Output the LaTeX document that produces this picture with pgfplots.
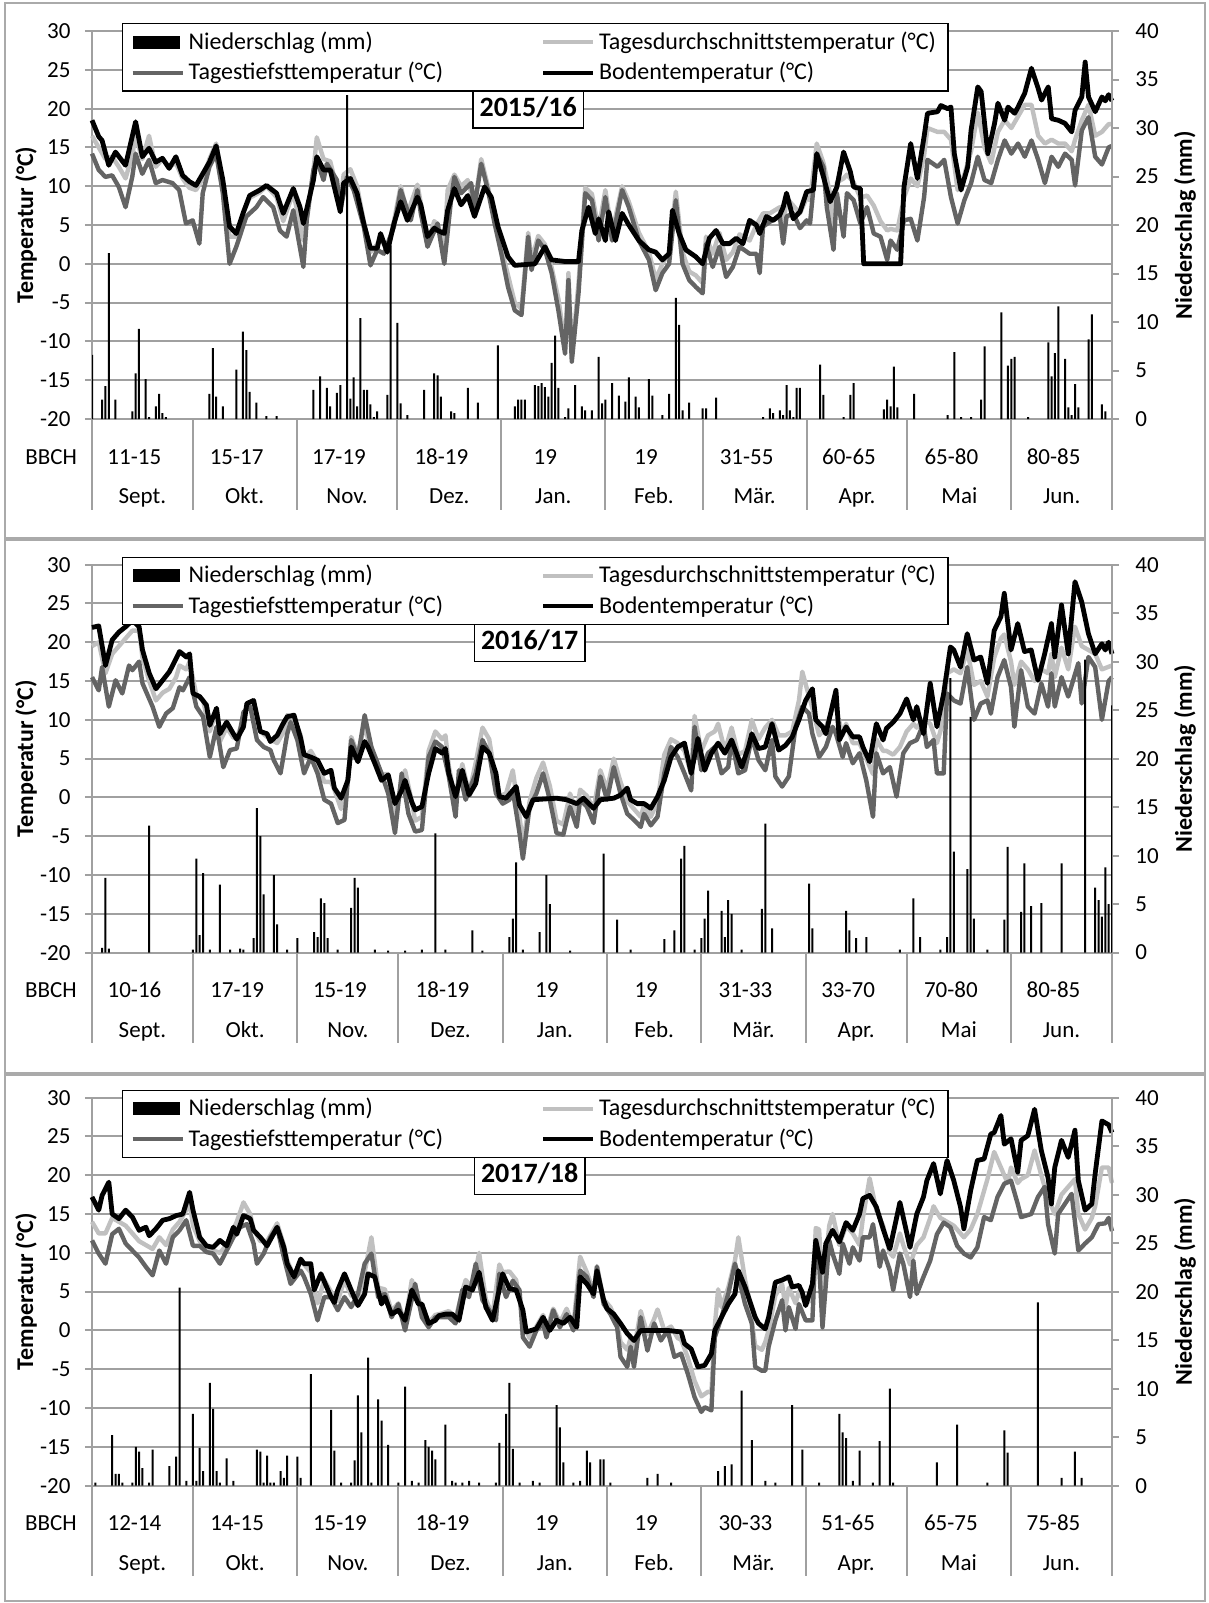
\documentclass[border=0pt]{standalone}
\usepackage{fontspec}
\setmainfont{Carlito}
\usepackage{pgfplots}
\pgfplotsset{compat=1.18}

\definecolor{gridc}{RGB}{160,160,160}
\definecolor{avgc}{RGB}{192,192,192}
\definecolor{minc}{RGB}{100,100,100}
\definecolor{framec}{RGB}{170,170,170}
\newcommand\tfont{\fontsize{11.5}{13.8}\selectfont}
\newcommand\lfont{\fontsize{12}{14.4}\selectfont}

\pgfplotsset{
  lineleg/.style={legend image code/.code={\draw[##1] (0pt,0pt) -- (25pt,0pt);}},
  barleg/.style={legend image code/.code={\fill[black] (0pt,-3.25pt) rectangle (23.5pt,3.25pt);}},
  base/.style={scale only axis, width=510pt, height=194pt, xmin=0,
    axis x line=none, tick align=outside, major tick length=3.5pt,
    tick style={gridc, line width=1pt},
    y axis line style={gridc, line width=1pt, -},
    ticklabel style={font=\tfont},
    /pgf/number format/assume math mode=true,
    label style={font=\fontsize{12}{14}\selectfont\bfseries}},
  tempax/.style={base, ymin=-20, ymax=30, ytick={-20,-15,...,30}, axis y line*=left,
    ymajorgrids, major grid style={gridc, line width=1pt},
    yticklabel style={xshift=-3.7pt},
    ylabel={Temperatur (°C)},
    ylabel style={at={(axis description cs:-0.0647,0.5)}, anchor=center},
    clip=false},
  precax/.style={base, ymin=0, ymax=40, ytick={0,5,...,40}, axis y line*=right,
    yticklabel style={xshift=4.7pt},
    ylabel={Niederschlag (mm)},
    ylabel style={at={(axis description cs:1.0716,0.5)}, anchor=center},
    legend columns=2, legend cell align=left,
    legend style={at={(axis description cs:0.0294,1.0206)}, anchor=north west,
      draw=black, line width=0.7pt, fill=white, font=\lfont,
      row sep=1pt, inner xsep=4pt, inner ysep=2pt,
      /tikz/every even column/.append style={column sep=47pt}}},
  avgline/.style={avgc, line width=2.2pt, line join=round},
  minline/.style={minc, line width=2.2pt, line join=round},
  soilline/.style={black, line width=2.4pt, line join=round},
  precbar/.style={ybar, bar width=1pt, fill=black, draw=none, barleg},
}

\newcommand\msep[1]{\draw[gridc, line width=1pt] (axis cs:#1,-20) -- (axis cs:#1,-31.7);}
\newcommand\mlab[3]{\node[font=\tfont, anchor=base, xshift=-4pt] at (axis cs:#1,-25.8) {#2};
  \node[font=\tfont, anchor=base] at (axis cs:#1,-30.95) {#3};}
% title box sits on the 20 degC gridline, i.e. 32 mm on the precipitation axis
\newcommand\titlebox[1]{\node[draw=black, line width=0.75pt, fill=white,
  font=\fontsize{14}{16}\selectfont\bfseries, inner xsep=3.3pt, inner ysep=4pt,
  text height=9.5pt, text depth=2pt] at (axis cs:130,32) {#1};}
\newcommand\legendrest{%
  \addlegendentry{Niederschlag (mm)}
  \addlegendimage{avgline, line width=2pt, lineleg}
  \addlegendentry{Tagesdurchschnittstemperatur (°C)}
  \addlegendimage{minline, line width=2pt, lineleg}
  \addlegendentry{Tagestiefsttemperatur (°C)}
  \addlegendimage{soilline, line width=2pt, lineleg}
  \addlegendentry{Bodentemperatur (°C)}}

\begin{document}
\begin{tikzpicture}
\useasboundingbox (0,0) rectangle (604.5pt,-801.5pt);

% ---------------- 2015/16 ----------------
\begin{axis}[tempax, xmax=304, at={(46pt,-209.5pt)}]
\addplot[avgline] coordinates {
(0,16.5)(2,15)(4,13.5)(6,13.8)(8,12.5)(10,11)(12,14)(13,16.5)(15,13.5)(17,16.5)(19,12.5)(21,13.5)(23,12.5)(25,13)(27,11)(29,9.8)(31,9.5)(33,11)(35,13.5)(37,15.5)(39,10.5)(41,3.5)(43,3.5)(45,6.5)(47,8.5)(50,9.2)(52,10)(55,8.6)(57,5.5)(60,9.2)(63,3)(66,12)(67,16.3)(69,13.5)(71,13.2)(74,8)(75,11.5)(77,12.2)(79,10)(81,5.5)(83,1.5)(85,2.5)(86,3.5)(88,1.5)(90,5.5)(92,10)(94,6.5)(97,10.2)(98,7.8)(100,2.5)(102,5.5)(103,5)(105,2.5)(106,9.5)(108,11.5)(110,10)(112,10.8)(114,7.5)(116,13.5)(118,10)(120,5.5)(122,2)(124,-1.5)(126,-5)(128,-5.8)(130,4)(131,0.5)(133,3.6)(135,2.5)(137,-0.5)(139,-4.5)(141,-10.5)(142,-1.2)(143,-11.8)(145,-2.5)(147,9.8)(149,9)(151,4.5)(153,9.5)(155,4)(158,10)(160,8)(163,4)(166,1.5)(168,-2)(170,0)(172,1.5)(174,9.3)(176,1.5)(178,-1)(180,-1.5)(182,-2.5)(183,3.5)(185,1.3)(187,4)(189,0.5)(191,1.5)(193,3.8)(196,3)(198,5)(200,6.5)(202,6.5)(205,7.3)(206,4.5)(207,8.5)(209,7.5)(211,6.5)(213,8.5)(214,8.2)(216,15.5)(218,13)(220,9)(221,4.5)(222,10.5)(224,11)(225,11.5)(227,10.5)(229,8.5)(231,8.8)(233,7.5)(235,5.5)(237,4.3)(238,4.5)(240,4.3)(242,8.5)(244,11)(246,10)(248,14)(249,17.5)(252,17)(254,17)(256,16)(258,9.5)(260,11.5)(262,14.5)(264,19.5)(266,15)(268,13)(270,17)(272,18.5)(274,17.5)(276,19)(278,20.5)(280,20.5)(282,16.5)(284,15.5)(286,16)(288,15.5)(290,15.5)(292,14.5)(293,16)(295,18.5)(297,20.5)(299,16.5)(301,17)(303,18)(304,18)};
\addplot[minline] coordinates {
(0,14.2)(2,12.1)(4,11.2)(6,11.4)(8,9.9)(10,7.3)(12,11.2)(13,14.2)(15,11.6)(17,13.4)(19,10.4)(21,10.8)(24,10.4)(26,9.5)(28,5.2)(30,5.6)(32,2.6)(33,9.1)(35,12.5)(37,14.2)(39,9.1)(41,0.0)(43,2.2)(46,6.1)(49,7.3)(51,8.6)(54,7.3)(56,4.3)(58,3.5)(60,6.9)(63,-0.4)(64,5.6)(66,12.1)(67,13.4)(69,10.8)(70,12.9)(73,10.8)(74,6.9)(76,11.2)(78,9.5)(81,4.8)(83,-0.2)(85,1.8)(87,1.3)(90,4.8)(92,9.5)(95,5.6)(97,9.5)(98,6.5)(100,2.2)(103,5.2)(105,0)(107,8.2)(108,11.2)(110,9.1)(113,10.4)(114,7.3)(116,12.9)(118,9.5)(120,5.2)(122,1.3)(124,-3.0)(126,-6.0)(128,-6.6)(130,3.5)(131,-0.8)(133,3.0)(135,1.8)(137,-1.2)(139,-6.0)(141,-11.6)(142,-2.1)(143,-12.6)(145,-3.8)(147,9.1)(149,8.2)(151,3.0)(153,8.6)(155,3.0)(158,9.5)(160,7.3)(163,3.0)(166,0.5)(168,-3.4)(170,-1.2)(172,0)(174,8.2)(176,0)(178,-2.1)(180,-3.0)(182,-3.8)(183,2.6)(185,-0.4)(187,2.2)(189,-1.7)(191,-0.4)(193,2.2)(196,1.3)(198,1.3)(199,-1.2)(200,4.8)(202,5.4)(205,6.1)(206,2.6)(207,6.1)(209,6.5)(211,4.6)(213,5.6)(214,5.2)(216,14.2)(218,12.5)(219,7.3)(221,1.8)(222,9.1)(224,3.5)(225,9.1)(227,8.2)(229,5.2)(231,7.3)(233,3.9)(235,3.5)(237,0.5)(238,3.0)(240,1.8)(242,5.6)(244,5.8)(246,3.0)(248,8.6)(249,13.4)(252,12.5)(254,13.4)(256,8.6)(258,5.2)(260,8.2)(262,10.4)(264,13.8)(266,10.8)(268,10.4)(270,13.4)(272,15.9)(274,14.2)(276,15.5)(278,13.8)(280,15.9)(282,13.4)(284,10.4)(286,13.8)(288,12.5)(290,14.2)(292,13.4)(293,10.1)(295,17.2)(297,18.9)(299,13.8)(301,12.8)(303,15)(304,15.2)};
\addplot[soilline] coordinates {
(0,18.5)(2,16.4)(3,15.9)(5,12.7)(7,14.4)(10,12.7)(13,18.3)(15,13.8)(17,14.9)(19,13.1)(21,13.6)(23,12.3)(25,13.8)(27,11.4)(29,10.6)(31,10.1)(33,11.6)(35,13.1)(37,15.2)(39,10.8)(41,4.8)(43,3.9)(45,6.5)(47,8.8)(50,9.5)(52,10.1)(55,9.1)(57,6.5)(60,9.7)(62,7.3)(63,5.2)(66,10.8)(67,13.8)(69,12.1)(71,12.1)(74,6.7)(75,10.4)(77,11.0)(79,9.1)(81,5.2)(83,2.0)(85,2.0)(86,3.9)(88,1.5)(90,5.2)(92,8.0)(94,5.6)(97,8.6)(98,7.6)(100,3.5)(102,4.6)(103,4.3)(105,3.9)(106,6.9)(108,9.7)(110,7.6)(112,8.8)(114,6.1)(117,9.9)(119,8.6)(121,4.8)(123,2.2)(124,0.9)(126,-0.2)(132,0)(135,2.2)(137,0.5)(141,0.3)(145,0.3)(146,4.3)(148,7.3)(150,3.9)(151,5.8)(153,3.0)(154,6.7)(156,3.0)(158,6.5)(160,5.0)(163,3.0)(166,1.8)(168,1.5)(170,0.5)(172,1.3)(173,6.9)(175,3.9)(177,1.8)(180,0.9)(182,0)(184,3.3)(186,4.3)(188,2.6)(190,2.6)(192,3.3)(194,2.6)(196,5.6)(198,5.0)(199,3.9)(201,6.1)(203,5.6)(205,6.3)(206,7.3)(207,9.1)(209,5.8)(211,6.7)(213,9.3)(215,9.5)(216,14.2)(218,11.2)(220,8.0)(222,9.9)(224,14.4)(226,11.9)(227,9.9)(229,9.7)(230,0)(241,0)(242,9.9)(244,15.5)(246,11.0)(248,16.4)(249,19.4)(252,19.6)(253,20.4)(255,20.0)(256,20.2)(257,14.2)(259,9.5)(261,12.5)(262,17.2)(264,22.8)(265,22.2)(267,14.2)(269,18.1)(270,20.7)(272,18.5)(273,20.2)(275,19.4)(276,20.2)(278,22.0)(280,25.2)(282,22.6)(283,21.1)(285,22.8)(286,18.7)(288,18.5)(290,18.1)(292,17.0)(293,19.8)(295,21.5)(296,26.0)(297,21.5)(299,19.6)(301,21.5)(302,21)(303,21.8)(304,21)};
\msep{0}\msep{30}\msep{61}\msep{91}\msep{122}\msep{153}\msep{182}\msep{213}\msep{243}\msep{274}\msep{304}
\node[font=\tfont, anchor=base] at (axis cs:-12.2,-25.8) {BBCH};
\mlab{15}{11-15}{Sept.}\mlab{45.5}{15-17}{Okt.}\mlab{76}{17-19}{Nov.}\mlab{106.5}{18-19}{Dez.}
\mlab{137.5}{19}{Jan.}\mlab{167.5}{19}{Feb.}\mlab{197.5}{31-55}{Mär.}\mlab{228}{60-65}{Apr.}
\mlab{258.5}{65-80}{Mai}\mlab{289}{80-85}{Jun.}
\end{axis}
\begin{axis}[precax, xmax=304, at={(46pt,-209.5pt)}]
\addplot[precbar] coordinates {
(0,6.6)(3,2.0)(4,3.4)(5,17.1)(7,2.0)(12,0.8)(13,4.7)(14,9.3)(16,4.1)(17,0.2)(19,1.3)(20,2.6)(21,0.6)(22,0.2)(35,2.6)(36,7.3)(37,2.3)(39,1.3)(43,5.1)(45,9.0)(46,7.1)(47,2.8)(49,1.7)(52,0.3)(55,0.3)(66,3.0)(68,4.4)(70,3.2)(71,1.3)(73,2.7)(74,3.5)(76,33.4)(77,2.1)(78,4.3)(79,1.3)(80,10.4)(81,3.0)(82,3.0)(83,1.5)(84,0.2)(85,0.8)(88,2.5)(89,17.9)(91,9.9)(92,1.6)(94,0.4)(99,3.0)(102,4.7)(103,4.5)(104,2.3)(107,0.8)(108,0.6)(112,3.2)(115,1.7)(121,7.6)(126,1.3)(127,2.0)(128,2.0)(129,2.0)(132,3.5)(133,3.4)(134,3.7)(135,3.3)(136,2.3)(137,5.8)(138,8.6)(139,3.2)(141,0.2)(142,1.1)(144,3.5)(146,1.3)(147,0.9)(149,0.9)(151,6.4)(152,1.6)(153,2.0)(155,3.7)(157,2.4)(159,1.8)(160,4.3)(162,2.3)(163,1.2)(166,4.1)(167,2.4)(170,0.4)(172,2.6)(174,12.5)(175,9.7)(176,0.9)(178,1.7)(182,1.1)(183,1.1)(186,2.2)(200,0.2)(202,1.1)(203,0.6)(205,0.9)(206,0.4)(207,3.5)(208,0.9)(209,0.2)(210,3.2)(211,3.2)(217,5.6)(218,2.5)(224,0.2)(226,2.5)(227,3.7)(236,1.0)(237,2.0)(238,1.3)(239,5.4)(240,1.2)(245,2.6)(255,0.4)(257,6.9)(259,0.2)(262,0.2)(265,2.0)(266,7.5)(271,11.0)(273,5.5)(274,6.2)(275,6.4)(279,0.2)(285,7.9)(286,4.4)(287,6.8)(288,11.6)(290,6.2)(291,1.2)(292,0.4)(293,3.6)(294,1.2)(297,8.2)(298,10.8)(301,1.5)(302,0.8)};
\legendrest
\titlebox{2015/16}
\end{axis}

% ---------------- 2016/17 ----------------
\begin{axis}[tempax, xmax=303, at={(46pt,-476.3pt)}]
\addplot[avgline] coordinates {
(0,19.5)(2,20)(4,16)(6,18.5)(8,19.5)(10,20.5)(12,21.5)(14,21.5)(15,18)(17,15)(19,12.5)(21,13.5)(23,14)(25,15.5)(26,17)(28,16.5)(29,17.5)(31,13.2)(33,12.5)(35,8.5)(37,11.3)(38,7.2)(40,9)(42,7.7)(43,7.7)(45,10)(46,12)(48,12.5)(50,8.5)(52,7.8)(53,7.5)(55,7)(57,8.5)(58,10.6)(60,10.2)(62,8)(63,5)(65,6)(67,4.5)(69,2)(71,2)(72,1)(74,-1.5)(76,2)(77,7.8)(79,5.5)(81,9.5)(82,7.5)(84,5)(86,3)(88,3)(90,-2.5)(92,2)(93,3.5)(95,-0.5)(96,-3)(98,-2.5)(100,6)(102,8.5)(104,7.5)(105,8)(106,4)(108,-0.5)(110,4.3)(112,0.5)(114,4.5)(116,9)(118,7.5)(120,2)(121,0.2)(123,0.5)(125,3.5)(127,-2.5)(128,-6)(130,-0.5)(132,2.5)(134,4.5)(136,1.5)(138,-3)(140,-3.5)(142,0.5)(144,-2)(145,1)(147,0.2)(149,-1.5)(151,3.5)(153,1)(155,5)(157,2)(159,-0.5)(161,-1.5)(163,-2.5)(164,-1)(166,-2.5)(168,-0.5)(170,5.5)(172,7.5)(174,7)(176,6)(178,3)(179,10.5)(181,6)(183,8)(185,8.5)(186,9.5)(188,6)(190,9)(192,5.5)(194,6)(196,10)(198,7.5)(200,9)(202,10)(204,8)(206,8)(208,8.5)(210,12.5)(211,16.2)(213,13)(214,11.5)(216,8)(218,9)(220,11.5)(221,11.5)(223,8)(224,9.5)(226,7)(228,7)(230,5)(232,3)(233,7.5)(235,6)(236,6)(238,5.5)(240,6.5)(242,8.5)(244,9.5)(245,9)(247,10)(249,9.5)(251,7)(253,10)(254,16)(256,16.5)(258,16)(260,19)(262,14.5)(264,15)(266,13)(268,18)(270,20.5)(271,21)(273,17.5)(274,14.5)(276,17.5)(278,16.5)(280,15)(282,16.5)(284,16)(285,18.5)(286,15.5)(288,19.3)(290,16.5)(292,22)(294,19.5)(296,19)(298,18.5)(300,16.5)(303,17)};
\addplot[minline] coordinates {
(0,15.5)(2,13.8)(3,16.8)(5,11.7)(7,15.1)(9,13.4)(11,17.0)(12,16.4)(14,17.5)(15,14.7)(18,11.7)(20,9.1)(22,10.8)(24,11.5)(26,14.2)(27,13.8)(29,15.5)(31,11.7)(33,10.4)(35,5.2)(37,9.1)(39,3.9)(41,6.1)(43,6.3)(45,11.0)(47,11.7)(49,7.4)(51,6.5)(53,6.1)(54,4.8)(56,3.1)(58,8.2)(59,9.7)(61,7.4)(63,3.1)(65,5.2)(67,3.1)(69,-0.3)(71,-0.8)(73,-3.3)(75,-2.9)(77,7.4)(79,5.2)(81,10.6)(83,6.5)(86,3.1)(88,0.5)(90,-4.6)(92,3.1)(94,-2.1)(96,-4.4)(98,-4.2)(100,5.2)(102,7.2)(104,6.5)(106,2.7)(108,-2.5)(109,3.5)(111,-0.3)(114,3.1)(116,7.4)(118,5.7)(120,0.5)(122,-0.8)(124,-0.3)(125,0.9)(127,-4.6)(128,-7.9)(130,-1.2)(132,0.5)(134,3.1)(136,-0.3)(138,-4.6)(140,-4.8)(142,-1.2)(144,-3.8)(145,-0.3)(147,-1.2)(149,-3.3)(151,2.7)(153,-0.3)(155,3.9)(157,0.5)(159,-2.1)(161,-2.9)(163,-3.8)(164,-2.1)(166,-3.6)(168,-2.5)(170,3.1)(172,6.5)(174,5.2)(176,3.1)(178,0.9)(179,9.1)(181,3.5)(183,5.7)(185,6.5)(187,3.1)(189,3.9)(190,7.4)(192,3.1)(194,3.5)(196,7.8)(198,4.8)(200,3.5)(202,7.4)(203,2.7)(205,1.4)(207,2.7)(209,9.1)(211,11.7)(213,10.8)(214,8.2)(216,5.2)(218,6.5)(220,9.1)(221,8.2)(223,5.2)(224,7.0)(226,4.4)(228,5.7)(230,2.2)(232,-2.5)(233,5.7)(235,3.1)(237,3.9)(239,0.1)(241,5.7)(243,7.0)(245,7.4)(247,9.5)(248,6.5)(250,7.4)(251,3.1)(253,3.1)(254,13.4)(256,12.5)(258,12.1)(260,16.8)(262,10.0)(264,12.1)(266,12.5)(267,10.8)(269,15.5)(271,17.7)(273,14.2)(274,9.1)(276,16.4)(278,11.7)(280,10.8)(282,14.7)(284,11.7)(285,16.0)(286,11.7)(288,15.5)(290,13.0)(293,17.3)(294,12.1)(296,18.1)(298,16.8)(300,10.0)(301,12.5)(302,15)(303,15.5)};
\addplot[soilline] coordinates {
(0,21.9)(2,22.1)(4,17.0)(6,20.3)(8,21.3)(10,22.0)(12,22.8)(14,22.0)(15,19.0)(17,16.0)(19,14.0)(21,15.1)(23,16.2)(25,17.9)(26,18.8)(28,18.1)(29,18.5)(30,13.4)(32,13.0)(34,11.9)(35,9.3)(37,11.5)(38,8.2)(40,9.7)(42,8.2)(43,7.5)(45,9.1)(46,12.1)(48,12.5)(50,8.5)(52,8.2)(53,7.2)(55,8.0)(57,9.7)(58,10.4)(60,10.6)(62,7.6)(63,5.5)(65,5.2)(67,4.8)(69,3.1)(71,3.5)(72,1.2)(74,-0.1)(76,2.2)(77,6.5)(79,4.6)(81,7.2)(82,6.5)(84,4.4)(86,2.2)(88,2.9)(90,-0.8)(92,0.9)(93,2.2)(95,-0.6)(96,-1.6)(98,-1.2)(100,3.1)(102,6.3)(104,5.7)(105,6.3)(106,3.1)(108,0.1)(110,3.5)(112,0.3)(114,1.8)(116,6.5)(118,5.7)(120,3.1)(121,0.1)(123,-0.1)(126,1.4)(127,-1.0)(129,-2.5)(131,-0.3)(138,-0.1)(141,-0.3)(144,-0.8)(146,-0.1)(149,-1.4)(151,-0.3)(155,-0.1)(157,0.3)(159,1.2)(160,-0.3)(162,-0.8)(164,-0.8)(166,-1.4)(168,0.1)(170,2.2)(172,5.2)(174,6.5)(176,7.0)(178,3.1)(180,7.6)(182,3.5)(184,5.7)(186,7.0)(188,5.7)(190,7.4)(193,3.9)(195,6.5)(196,8.2)(198,6.3)(200,6.5)(202,9.5)(204,6.1)(206,6.7)(208,7.8)(210,10.0)(212,12.5)(214,14.0)(215,10.0)(217,9.1)(218,8.2)(221,13.8)(222,7.4)(224,9.1)(226,7.8)(228,7.8)(229,6.5)(231,4.6)(233,9.5)(235,7.4)(236,8.9)(238,9.7)(240,10.8)(242,12.7)(244,10.0)(245,11.7)(247,8.2)(249,14.7)(251,9.1)(253,13.4)(255,19.4)(256,19.0)(258,16.8)(260,21.1)(262,17.7)(264,18.1)(266,14.7)(268,21.5)(270,23.3)(271,26.3)(273,19.0)(275,22.4)(277,18.8)(279,19.0)(281,15.1)(283,18.5)(285,22.4)(286,18.1)(288,24.8)(290,18.5)(292,27.8)(294,25.2)(296,21.1)(298,18.5)(300,19.8)(301,19)(302,20)(303,18.5)};
\msep{0}\msep{30}\msep{61}\msep{91}\msep{122}\msep{153}\msep{181}\msep{212}\msep{242}\msep{273}\msep{303}
\node[font=\tfont, anchor=base] at (axis cs:-12.2,-25.8) {BBCH};
\mlab{15}{10-16}{Sept.}\mlab{45.5}{17-19}{Okt.}\mlab{76}{15-19}{Nov.}\mlab{106.5}{18-19}{Dez.}
\mlab{137.5}{19}{Jan.}\mlab{167}{19}{Feb.}\mlab{196.5}{31-33}{Mär.}\mlab{227}{33-70}{Apr.}
\mlab{257.5}{70-80}{Mai}\mlab{288}{80-85}{Jun.}
\end{axis}
\begin{axis}[precax, xmax=303, at={(46pt,-476.3pt)}]
\addplot[precbar] coordinates {
(3,0.5)(4,7.7)(5,0.4)(17,13.1)(30,0.3)(31,9.7)(32,1.8)(33,8.2)(35,0.3)(38,7.0)(41,0.3)(44,0.4)(45,0.3)(48,1.5)(49,14.9)(50,12.0)(51,6.0)(54,8.0)(55,2.9)(58,0.3)(61,1.5)(66,2.1)(67,1.6)(68,5.6)(69,5.1)(70,1.5)(73,0.3)(77,4.6)(78,7.7)(79,6.7)(84,0.3)(88,0.2)(93,0.2)(98,0.3)(102,12.3)(105,0.3)(113,2.3)(116,0.2)(124,1.6)(125,3.5)(126,9.3)(128,0.3)(133,2.1)(135,8.0)(136,5.0)(142,0.2)(152,10.2)(156,3.4)(160,0.3)(170,1.4)(173,2.3)(175,9.7)(176,11.0)(179,0.3)(181,1.5)(182,3.5)(183,6.4)(187,4.3)(188,1.6)(189,5.4)(190,4.0)(193,0.3)(199,4.5)(200,13.3)(202,2.5)(213,7.1)(214,2.5)(224,4.3)(225,2.3)(227,1.5)(230,1.6)(240,0.3)(244,5.6)(246,1.6)(252,0.3)(254,1.6)(255,28.3)(256,10.4)(260,8.6)(261,24.3)(262,3.5)(266,0.3)(271,3.4)(272,10.9)(276,4.2)(277,9.2)(279,4.8)(282,5.1)(288,9.2)(295,30.2)(298,6.7)(299,5.4)(300,3.7)(301,8.8)(302,5.0)(303,25.5)};
\legendrest
\titlebox{2016/17}
\end{axis}

% ---------------- 2017/18 ----------------
\begin{axis}[tempax, xmax=303, at={(46pt,-742.8pt)}]
\addplot[avgline] coordinates {
(0,14)(2,12.5)(4,12.5)(6,14.5)(8,14)(10,13.5)(12,12.5)(14,11.5)(16,11)(18,10.5)(20,12)(22,11)(24,13)(26,14)(28,15.5)(29,16.5)(30,13.5)(32,11.5)(34,10.5)(36,10.3)(38,10)(40,11)(42,13)(43,14)(45,16.5)(47,15)(48,13)(50,11.5)(52,11.5)(55,13.8)(57,11)(58,9)(60,7)(62,9)(63,8.5)(65,7.5)(67,3.5)(69,6.5)(71,5)(73,3.8)(75,6.5)(77,4.5)(79,4)(81,7.5)(83,12)(85,5.5)(87,5.3)(89,2.5)(91,3.5)(93,1)(95,6.5)(97,4)(99,1.5)(100,1)(102,2)(104,2.2)(106,2.5)(108,1.5)(110,5)(111,6.5)(113,5.5)(115,10)(117,4)(119,2)(121,8.5)(122,7.5)(124,7.6)(126,6.5)(128,1.5)(129,0)(130,-1)(132,0.5)(134,2)(135,0)(137,2.8)(139,1)(141,2.8)(143,0.5)(145,9.5)(147,7.5)(149,5)(150,8.3)(152,4)(154,3)(156,1)(157,-1.5)(159,-2.5)(160,-1)(161,-2.5)(163,2.5)(165,-0.5)(167,1.5)(168,2.7)(170,0)(172,0.5)(174,-1)(175,-1.2)(177,-3.5)(179,-6.5)(181,-8.5)(183,-7.9)(184,-8)(185,0.5)(186,5.3)(187,3)(189,5.5)(191,9)(192,12)(194,6.5)(195,4.5)(197,-2)(199,-2.5)(200,-1.5)(201,0)(203,4.5)(205,6)(206,3)(207,5.5)(209,3.5)(210,5)(212,3.5)(214,4)(215,13.2)(216,13)(217,5)(219,13.5)(220,15)(222,11)(224,13.5)(226,12.5)(228,11)(229,14.5)(231,19.6)(233,15.5)(235,13.5)(237,10)(238,9.5)(240,12.5)(241,11)(243,8.5)(245,11)(247,12)(249,14.5)(250,16)(252,14.5)(254,14)(256,13.5)(258,12.5)(259,12)(261,13)(263,15)(265,18)(266,19.5)(268,23)(270,21)(272,19)(273,21)(275,19)(276,19.5)(278,20)(280,23.2)(282,20)(284,17)(286,15)(288,17.5)(290,18.5)(292,19.5)(293,15)(295,13)(297,14.5)(298,16)(300,21)(302,21)(303,19)};
\addplot[minline] coordinates {
(0,11.6)(2,9.9)(4,8.6)(6,12.4)(8,13.1)(10,11.2)(12,10.3)(14,9.4)(16,8.2)(18,7.1)(20,10.3)(22,8.6)(24,12.0)(26,12.9)(28,14.2)(30,10.9)(32,10.9)(34,10.1)(36,9.9)(38,8.6)(40,10.3)(42,12.0)(44,13.3)(46,13.7)(48,11.2)(49,8.6)(51,9.9)(53,12.0)(55,13.3)(57,9.4)(59,6.0)(62,7.7)(63,6.9)(65,4.7)(67,1.3)(69,4.3)(71,4.3)(73,2.6)(75,4.3)(77,3.0)(79,4.7)(81,8.6)(83,9.9)(85,4.3)(87,4.7)(89,1.7)(91,3.4)(93,0)(96,6.0)(98,1.7)(100,0.4)(102,1.7)(104,1.7)(106,1.7)(108,0.9)(110,5.2)(112,4.3)(114,8.6)(116,3.9)(118,2.6)(120,1.3)(121,7.3)(123,4.3)(125,6.4)(127,5.2)(128,-0.9)(130,-2.1)(132,0)(134,0.9)(135,-0.9)(137,2.6)(139,0.4)(141,2.1)(143,0)(145,7.7)(147,6.9)(149,4.3)(150,8.2)(152,3.4)(154,2.1)(156,0.4)(157,-3.4)(159,-4.7)(160,-2.1)(161,-4.7)(163,1.7)(165,-2.6)(167,0.9)(169,-1.3)(171,0)(173,-3.4)(175,-3.0)(177,-5.6)(179,-8.6)(181,-10.5)(182,-9.9)(184,-10.3)(185,-0.9)(187,1.7)(189,4.7)(191,8.6)(193,5.2)(194,3.4)(196,0.9)(197,-4.7)(199,-5.2)(200,-5.2)(201,-2.1)(203,1.3)(205,3.9)(206,0)(207,3.0)(209,0.2)(210,3.4)(212,1.3)(214,1.3)(215,11.6)(216,8.6)(217,0.4)(219,11.6)(220,9.9)(222,7.3)(223,11.2)(225,8.6)(226,10.7)(228,9.0)(229,12.0)(231,12.0)(232,13.7)(234,8.2)(235,10.3)(237,7.7)(238,5.2)(240,9.9)(241,8.6)(243,4.3)(244,9.0)(245,4.7)(247,6.9)(249,9.0)(251,12.4)(253,13.9)(255,13.3)(257,10.9)(259,9.9)(261,9.4)(263,10.7)(265,14.6)(267,14.2)(269,17.2)(271,18.9)(273,19.3)(275,16.3)(276,14.6)(279,15.0)(281,17.2)(283,18.5)(284,13.7)(286,9.9)(287,15.0)(289,16.3)(291,17.6)(293,10.3)(295,11.2)(297,12.0)(299,13.7)(301,13.8)(302,14.5)(303,12.8)};
\addplot[soilline] coordinates {
(0,17.2)(2,15.5)(3,17.4)(5,19.1)(6,15.0)(8,14.4)(10,15.5)(12,14.6)(14,12.9)(16,13.3)(17,12.2)(19,13.1)(21,14.2)(23,14.4)(25,14.8)(27,15.0)(29,17.8)(30,15.5)(32,12.0)(34,10.9)(36,10.7)(38,11.6)(40,10.9)(42,13.3)(43,12.4)(45,14.8)(47,14.4)(48,12.9)(50,12.0)(52,10.9)(55,13.3)(57,10.7)(58,8.6)(60,6.9)(62,9.2)(63,8.6)(65,8.6)(66,5.2)(68,7.3)(71,4.3)(72,3.6)(73,5.2)(75,7.3)(77,5.2)(79,3.2)(81,4.7)(82,7.3)(84,6.9)(86,3.4)(87,4.3)(89,2.1)(91,2.6)(93,1.3)(95,5.2)(97,3.4)(98,3.4)(100,0.9)(102,1.3)(103,1.9)(105,2.1)(107,2.1)(109,1.3)(111,5.6)(113,5.2)(115,7.5)(117,3.0)(119,1.3)(122,7.3)(124,5.4)(126,5.2)(128,2.6)(129,-0.2)(132,0.2)(134,1.7)(136,0)(138,1.3)(140,0.9)(142,1.7)(144,0.4)(145,6.9)(147,6.0)(149,4.7)(150,7.7)(152,3.9)(153,2.8)(155,2.1)(157,0.9)(159,-0.4)(161,-1.3)(163,0)(167,0)(171,0)(175,-0.2)(176,-1.7)(178,-2.4)(180,-4.7)(182,-4.5)(184,-3.0)(185,0)(187,1.7)(189,3.4)(191,4.7)(192,7.7)(194,5.6)(195,4.3)(197,1.7)(198,0.9)(200,0.2)(201,1.7)(203,6.2)(205,6.5)(207,6.9)(208,5.6)(210,5.8)(211,4.9)(212,3.2)(214,6.0)(215,11.6)(217,7.5)(218,11.2)(220,12.9)(222,11.4)(224,13.9)(226,12.9)(228,15.0)(229,17.0)(231,17.4)(233,15.9)(235,13.1)(237,10.5)(240,16.5)(243,10.7)(245,15.0)(247,17.2)(248,19.3)(250,21.5)(252,17.6)(254,21.9)(256,19.3)(258,15.9)(259,13.1)(261,18.0)(263,21.9)(265,22.1)(267,25.3)(268,25.5)(270,27.7)(271,24.0)(273,24.7)(275,20.4)(276,24.5)(278,25.1)(280,28.5)(282,23.2)(284,19.7)(285,16.3)(286,21.0)(288,24.5)(290,22.3)(292,25.8)(293,19.3)(295,15.5)(297,16.3)(298,20.2)(300,27.0)(302,26.5)(303,25.5)};
\msep{0}\msep{30}\msep{61}\msep{91}\msep{122}\msep{153}\msep{181}\msep{212}\msep{242}\msep{273}\msep{303}
\node[font=\tfont, anchor=base] at (axis cs:-12.2,-25.8) {BBCH};
\mlab{15}{12-14}{Sept.}\mlab{45.5}{14-15}{Okt.}\mlab{76}{15-19}{Nov.}\mlab{106.5}{18-19}{Dez.}
\mlab{137.5}{19}{Jan.}\mlab{167}{19}{Feb.}\mlab{196.5}{30-33}{Mär.}\mlab{227}{51-65}{Apr.}
\mlab{257.5}{65-75}{Mai}\mlab{288}{75-85}{Jun.}
\end{axis}
\begin{axis}[precax, xmax=303, at={(46pt,-742.8pt)}]
\addplot[precbar] coordinates {
(1,0.3)(6,5.2)(7,1.2)(8,1.2)(9,0.3)(12,0.3)(13,4.0)(14,3.5)(15,1.8)(17,0.3)(18,3.7)(23,2.0)(25,3.0)(26,20.4)(28,0.5)(30,7.4)(31,0.5)(32,3.9)(33,1.5)(35,10.6)(36,7.9)(37,1.5)(38,0.3)(40,2.8)(42,0.5)(49,3.7)(50,3.5)(51,0.3)(52,3.1)(53,0.3)(54,0.3)(56,1.5)(57,0.8)(58,3.1)(61,3.0)(62,0.8)(65,11.5)(71,7.8)(72,3.6)(74,0.3)(77,0.3)(78,2.6)(79,9.3)(80,5.5)(82,13.2)(83,0.3)(85,8.9)(86,6.7)(88,4.2)(91,0.3)(93,10.2)(95,0.5)(97,0.3)(99,4.7)(100,4.0)(101,3.6)(102,2.7)(105,6.3)(107,0.5)(108,0.3)(110,0.3)(112,0.5)(115,0.3)(120,0.3)(121,4.4)(123,7.4)(124,10.6)(125,3.8)(127,0.3)(131,0.5)(133,0.3)(138,8.3)(139,6.0)(140,2.4)(143,0.3)(145,0.5)(147,3.6)(148,2.4)(151,2.7)(152,2.7)(154,0.3)(165,0.8)(168,1.2)(172,0.3)(186,1.5)(188,2.0)(190,2.2)(193,9.8)(196,4.7)(200,0.5)(203,0.3)(208,8.3)(211,3.7)(216,0.3)(222,7.4)(223,5.5)(224,4.9)(226,0.5)(228,3.6)(232,0.3)(234,4.6)(237,10.0)(238,0.3)(251,2.4)(257,6.3)(266,0.3)(271,5.7)(272,3.4)(281,18.9)(288,0.8)(292,3.5)(294,0.8)};
\legendrest
\titlebox{2017/18}
\end{axis}

% panel frames
\draw[framec, line width=0.8pt] (2.5pt,-1.5pt) rectangle (602.5pt,-269pt);
\draw[framec, line width=0.8pt] (2.5pt,-270pt) rectangle (602.5pt,-536.5pt);
\draw[framec, line width=0.8pt] (2.5pt,-537.5pt) rectangle (602.5pt,-800.5pt);
\end{tikzpicture}
\end{document}
